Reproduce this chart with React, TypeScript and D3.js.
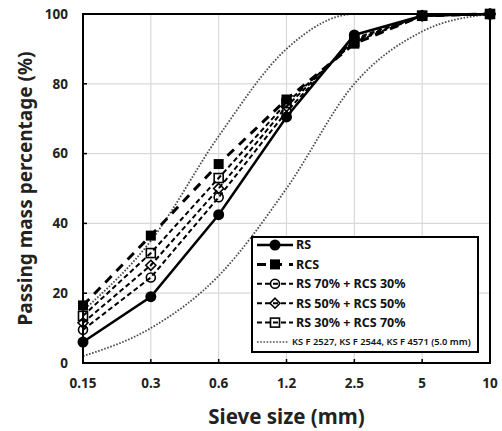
import React, { useEffect, useRef } from "react";
import * as d3 from "d3";

const sieves = ["0.15", "0.3", "0.6", "1.2", "2.5", "5", "10"];
const yTicks = [0, 20, 40, 60, 80, 100];

const rs = [6, 19, 42.5, 70.5, 94, 99.5, 100];
const rcs = [16.5, 36.5, 57, 75.5, 91.5, 99.5, 100];
const rs70 = [9.5, 24.5, 47.5, 72, 93, 99.5, 100];
const rs50 = [11.5, 28, 50, 73.5, 92.5, 99.5, 100];
const rs30 = [13.5, 31.5, 53, 74.5, 92, 99.5, 100];
const specLower = [2, 10, 25, 50, 80, 95, 100];
const specUpper = [15, 35, 65, 90, 100, 100, 100];

const seriesNames = [
  "RS",
  "RCS",
  "RS 70% + RCS 30%",
  "RS 50% + RCS 50%",
  "RS 30% + RCS 70%",
  "KS F 2527, KS F 2544, KS F 4571 (5.0 mm)",
];

const FONT = "'Noto Sans', 'Noto Sans CJK KR', sans-serif";

export default function App() {
  const svgRef = useRef<SVGSVGElement>(null);

  useEffect(() => {
    document.body.style.margin = "0";
    const width = 502;
    const height = 431;
    const m = { top: 14, right: 12, bottom: 68, left: 83 };

    const svg = d3.select(svgRef.current);
    svg.selectAll("*").remove();

    const x = d3
      .scalePoint<string>()
      .domain(sieves)
      .range([m.left, width - m.right]);

    const y = d3
      .scaleLinear()
      .domain([0, 100])
      .range([height - m.bottom, m.top]);

    // ---------------- grid ----------------
    svg.append("g")
      .selectAll("line")
      .data(yTicks.slice(1, -1))
      .join("line")
      .attr("x1", m.left)
      .attr("x2", width - m.right)
      .attr("y1", d => y(d))
      .attr("y2", d => y(d))
      .attr("stroke", "#d9d9d9")
      .attr("stroke-width", 1.2);

    svg.append("g")
      .selectAll("line")
      .data(sieves.slice(1, -1))
      .join("line")
      .attr("x1", d => x(d)!)
      .attr("x2", d => x(d)!)
      .attr("y1", m.top)
      .attr("y2", height - m.bottom)
      .attr("stroke", "#d9d9d9")
      .attr("stroke-width", 1.2);

    // ---------------- tick labels ----------------
    svg.append("g")
      .selectAll("text")
      .data(yTicks)
      .join("text")
      .attr("x", m.left - 15)
      .attr("y", d => y(d))
      .attr("dy", "0.35em")
      .attr("text-anchor", "end")
      .attr("font-family", FONT)
      .attr("font-weight", "bold")
      .attr("font-size", 13.5)
      .attr("fill", "#222")
      .text(d => d);

    svg.append("g")
      .selectAll("text")
      .data(sieves)
      .join("text")
      .attr("x", d => x(d)!)
      .attr("y", height - m.bottom + 20)
      .attr("dy", "0.35em")
      .attr("text-anchor", "middle")
      .attr("font-family", FONT)
      .attr("font-weight", "bold")
      .attr("font-size", 13.5)
      .attr("fill", "#222")
      .text(d => d);

    // tick marks
    svg.append("g")
      .selectAll("line")
      .data(sieves.slice(1, -1))
      .join("line")
      .attr("x1", d => x(d)!)
      .attr("x2", d => x(d)!)
      .attr("y1", height - m.bottom)
      .attr("y2", height - m.bottom - 4)
      .attr("stroke", "#000")
      .attr("stroke-width", 1.5);

    svg.append("g")
      .selectAll("line")
      .data(yTicks.slice(1, -1))
      .join("line")
      .attr("x1", m.left)
      .attr("x2", m.left + 4)
      .attr("y1", d => y(d))
      .attr("y2", d => y(d))
      .attr("stroke", "#000")
      .attr("stroke-width", 1.5);

    // ---------------- axis titles ----------------
    svg.append("text")
      .attr("transform", `translate(25, ${(m.top + height - m.bottom) / 2}) rotate(-90)`)
      .attr("text-anchor", "middle")
      .attr("dy", "0.35em")
      .attr("font-family", FONT)
      .attr("font-weight", "bold")
      .attr("font-size", 19)
      .attr("fill", "#222")
      .text("Passing mass percentage (%)");

    svg.append("text")
      .attr("x", (m.left + width - m.right) / 2)
      .attr("y", 417)
      .attr("dy", "0.35em")
      .attr("text-anchor", "middle")
      .attr("font-family", FONT)
      .attr("font-weight", "bold")
      .attr("font-size", 20.5)
      .attr("fill", "#222")
      .text("Sieve size (mm)");

    // ---------------- lines ----------------
    const straight = d3.line<number>()
      .x((_, i) => x(sieves[i])!)
      .y(d => y(d));

    const smooth = d3.line<number>()
      .x((_, i) => x(sieves[i])!)
      .y(d => y(d))
      .curve(d3.curveMonotoneX);

    [specLower, specUpper].forEach(s => {
      svg.append("path")
        .datum(s)
        .attr("fill", "none")
        .attr("stroke", "#4d4d4d")
        .attr("stroke-width", 1.8)
        .attr("stroke-dasharray", "1.6 1.6")
        .attr("d", smooth);
    });

    const series = [
      { data: rs30, dash: "5 3", width: 2, marker: "sq" },
      { data: rs50, dash: "5 3", width: 2, marker: "dia" },
      { data: rs70, dash: "5 3", width: 2, marker: "circ" },
      { data: rcs, dash: "9 7", width: 3, marker: "fsq" },
      { data: rs, dash: null, width: 2.5, marker: "fcirc" },
    ];

    const drawMarker = (g: any, type: string, cx: number, cy: number) => {
      if (type === "fcirc") {
        g.append("circle").attr("cx", cx).attr("cy", cy).attr("r", 5.5).attr("fill", "#000");
      } else if (type === "fsq") {
        g.append("rect").attr("x", cx - 5).attr("y", cy - 5).attr("width", 10).attr("height", 10).attr("fill", "#000");
      } else if (type === "circ") {
        g.append("circle").attr("cx", cx).attr("cy", cy).attr("r", 4.5)
          .attr("fill", "none").attr("stroke", "#000").attr("stroke-width", 1.6);
      } else if (type === "sq") {
        g.append("rect").attr("x", cx - 4.5).attr("y", cy - 4.5).attr("width", 9).attr("height", 9)
          .attr("fill", "none").attr("stroke", "#000").attr("stroke-width", 1.6);
      } else if (type === "dia") {
        g.append("path")
          .attr("d", `M${cx},${cy - 5}L${cx + 5},${cy}L${cx},${cy + 5}L${cx - 5},${cy}Z`)
          .attr("fill", "none").attr("stroke", "#000").attr("stroke-width", 1.6);
      }
    };

    series.forEach(s => {
      svg.append("path")
        .datum(s.data)
        .attr("fill", "none")
        .attr("stroke", "#000")
        .attr("stroke-width", s.width)
        .attr("stroke-dasharray", s.dash)
        .attr("d", straight);
      const g = svg.append("g");
      s.data.forEach((d, i) => drawMarker(g, s.marker, x(sieves[i])!, y(d)));
    });

    // ---------------- frame ----------------
    svg.append("rect")
      .attr("x", m.left)
      .attr("y", m.top)
      .attr("width", width - m.left - m.right)
      .attr("height", height - m.top - m.bottom)
      .attr("fill", "none")
      .attr("stroke", "#000")
      .attr("stroke-width", 2);

    // ---------------- legend ----------------
    const lg = svg.append("g").attr("transform", "translate(252, 237)");
    lg.append("rect")
      .attr("width", 226)
      .attr("height", 115)
      .attr("fill", "#fff")
      .attr("stroke", "#000")
      .attr("stroke-width", 2);

    const legendItems = [
      { dash: null, width: 2.5, marker: "fcirc" },
      { dash: "9 7", width: 3, marker: "fsq" },
      { dash: "5 3", width: 2, marker: "circ" },
      { dash: "5 3", width: 2, marker: "dia" },
      { dash: "5 3", width: 2, marker: "sq" },
      { dash: "1.6 1.6", width: 1.6, marker: null },
    ];

    legendItems.forEach((it, i) => {
      const cy = 8 + i * 19.4;
      const last = i === legendItems.length - 1;
      lg.append("line")
        .attr("x1", 5)
        .attr("x2", last ? 36 : 41)
        .attr("y1", cy)
        .attr("y2", cy)
        .attr("stroke", last ? "#4d4d4d" : "#000")
        .attr("stroke-width", it.width)
        .attr("stroke-dasharray", it.dash);
      if (it.marker) drawMarker(lg, it.marker, 23, cy);
      lg.append("text")
        .attr("x", last ? 40 : 44)
        .attr("y", cy)
        .attr("dy", "0.35em")
        .attr("font-family", FONT)
        .attr("font-weight", last ? "600" : "bold")
        .attr("font-size", last ? 9.3 : 12.5)
        .attr("fill", "#111")
        .text(seriesNames[i]);
    });
  }, []);

  return <svg ref={svgRef} width={502} height={431} style={{ display: "block" }} />;
}
